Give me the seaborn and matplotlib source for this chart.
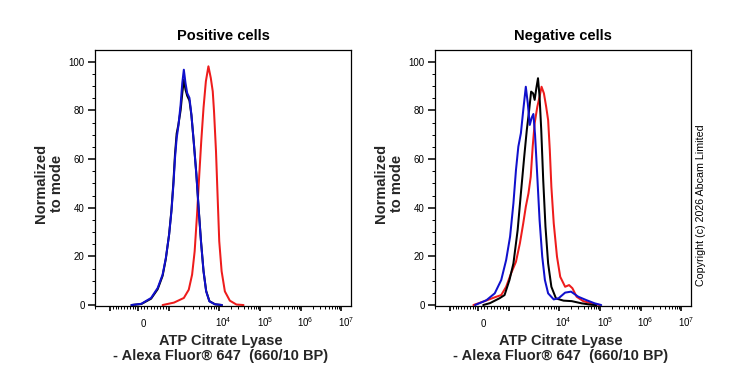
import numpy as np
import pandas as pd
import matplotlib
matplotlib.use("Agg")
import matplotlib.pyplot as plt
import seaborn as sns
from matplotlib.transforms import ScaledTranslation

# ---------------- data (fluorescence intensity, % of mode) ----------------
pos_red_x = [797, 1272, 2003, 2514, 2934, 3302, 3682, 4088, 4476, 4971, 5540, 6234,
             6955, 7613, 8077, 8845, 9556, 10337, 11797, 14148, 18637, 26960, 40000]
pos_red_y = [0, 1, 2.9, 6.3, 12.5, 22.1, 37.1, 53.6, 67.3, 81, 91.9, 98.1,
             93.3, 87.8, 79.6, 63.2, 44, 26.2, 13.9, 5.6, 1.8, 0.2, 0]

pos_black_x = [-241, 97, 419, 635, 797, 903, 1014, 1130, 1238, 1332, 1438, 1554, 1725,
               1863, 2003, 2164, 2338, 2596, 2842, 3155, 3567, 3960, 4416, 4971, 5616,
               6525, 8453, 12000]
pos_black_y = [0, 0.4, 2.6, 6.5, 12, 19, 29, 39, 50.5, 62, 70.5, 74, 80,
               87, 92.5, 88.5, 86, 84, 78, 67.5, 54, 40, 26.5, 14, 5.8,
               1.6, 0.3, 0]

pos_blue_x = [-241, 97, 419, 635, 797, 903, 1014, 1130, 1238, 1332, 1438, 1554, 1725,
              1863, 2003, 2164, 2338, 2596, 2842, 3155, 3567, 3960, 4416, 4971, 5616,
              6525, 8453, 12000]
pos_blue_y = [0, 0.5, 2.9, 7, 12.5, 19.3, 28.9, 38.5, 49.5, 60.4, 68.6, 73.4, 82.3,
              91.2, 96.7, 91.2, 87.1, 85.1, 78.2, 67.3, 53.6, 39.9, 26.2, 13.9, 5.6,
              1.5, 0.3, 0]

neg_red_x = [-172, 161, 590, 752, 913, 1110, 1393, 1671, 1950, 2194, 2480, 2753, 3015,
             3302, 3733, 4144, 4537, 5060, 5616, 6152, 6645, 7145, 7969, 9259, 10918,
             14358, 17880, 21545, 27270, 39380, 62080, 98360]
neg_red_y = [0, 1.4, 3.4, 4.1, 7.5, 13, 17.8, 25.4, 33.6, 40.4, 45.9, 52.7, 65.1,
             74.7, 81.5, 85.6, 89.7, 87, 81.5, 76, 63.7, 48.6, 33.6, 19.9, 11.6,
             7.5, 8.2, 6.9, 3.4, 1.6, 0.7, 0]

neg_black_x = [161, 387, 700, 861, 1032, 1238, 1505, 1748, 2040, 2296, 2561, 2804, 3070,
               3302, 3567, 3853, 4144, 4476, 4901, 5441, 6152, 7145, 8845, 13151, 20734,
               35866, 62080, 81630]
neg_black_y = [0, 0.8, 2.8, 4.1, 10.3, 17.1, 30.8, 45.9, 61, 71.9, 80.1, 87.7, 87,
               84.3, 89.1, 93.2, 85.6, 71.9, 51.4, 32.2, 17.1, 7.5, 2.7, 1.8, 1.6,
               0.7, 0.1, 0]

neg_blue_x = [-114, 161, 268, 539, 752, 913, 1061, 1238, 1393, 1554, 1748, 1950, 2194,
              2403, 2632, 2882, 3112, 3362, 3733, 4144, 4685, 5296, 6152, 7969, 10000,
              14358, 19953, 29939, 47190, 74350, 107520]
neg_blue_y = [0, 1.4, 2, 4.8, 10.3, 18.5, 28.1, 41.8, 55.5, 65.1, 70.6, 80.1, 89.7,
              82.9, 74, 77, 78.5, 70, 52.7, 34.9, 19.9, 10.3, 4.8, 2.3, 2.8,
              5.1, 5.5, 3.4, 2, 0.7, 0]

panel_titles = ["Positive cells", "Negative cells"]
x_major_ticks = [-1000, 0, 1000, 1e4, 1e5, 1e6, 1e7]
x_major_labels = ["", "0", "", "$10^{4}$", "$10^{5}$", "$10^{6}$", "$10^{7}$"]
y_ticks = [0, 20, 40, 60, 80, 100]
x_label = "ATP Citrate Lyase\n- Alexa Fluor\u00ae 647  (660/10 BP)"
y_label = "Normalized\nto mode"
copyright_text = "Copyright (c) 2026 Abcam Limited"

series_colors = {"red": "#ee1c1c", "black": "#000000", "blue": "#1010cc"}

# ---------------- style ----------------
sns.set_theme(style="white")
plt.rcParams["font.family"] = ["Liberation Sans", "DejaVu Sans"]
plt.rcParams["mathtext.fontset"] = "custom"
plt.rcParams["mathtext.rm"] = "Liberation Sans"
plt.rcParams["mathtext.it"] = "Liberation Sans:italic"
plt.rcParams["mathtext.bf"] = "Liberation Sans:bold"
plt.rcParams["axes.edgecolor"] = "black"
plt.rcParams["text.color"] = "black"
plt.rcParams["xtick.color"] = "black"
plt.rcParams["ytick.color"] = "black"

# biexponential-like display transform (linear near zero, log above 1e3)
LOG_V = np.array([3.0, 4.0, 5.0, 6.0, 7.0, 8.0])
LOG_P = np.array([31.0, 81.7, 123.7, 165.0, 206.5, 248.0])


def fwd(x):
    x = np.asarray(x, dtype=float)
    a = np.abs(x)
    la = np.log10(np.maximum(a, 1000.0))
    pos = np.where(a <= 1000, a * 31.0 / 1000.0, np.interp(la, LOG_V, LOG_P))
    neg = np.where(a <= 1000, -a * 29.0 / 1000.0, -(29.0 + 50.0 * (la - 3.0)))
    return np.where(x >= 0, pos, neg)


def inv(y):
    y = np.asarray(y, dtype=float)
    pos = np.where(y <= 31.0, y / 31.0 * 1000.0,
                   10 ** np.interp(np.maximum(y, 31.0), LOG_P, LOG_V))
    neg = np.where(y >= -29.0, y / 29.0 * 1000.0,
                   -10 ** (3.0 + (np.maximum(-y, 29.0) - 29.0) / 50.0))
    return np.where(y >= 0, pos, neg)


def make_df(rx, ry, kx, ky, bx, by):
    parts = []
    for name, xs, ys in (("red", rx, ry), ("black", kx, ky), ("blue", bx, by)):
        parts.append(pd.DataFrame({"x": xs, "y": ys, "sample": name}))
    return pd.concat(parts, ignore_index=True)


dfs = [make_df(pos_red_x, pos_red_y, pos_black_x, pos_black_y, pos_blue_x, pos_blue_y),
       make_df(neg_red_x, neg_red_y, neg_black_x, neg_black_y, neg_blue_x, neg_blue_y)]

W, H = 739, 370
fig = plt.figure(figsize=(W / 100, H / 100), dpi=100)
fig.patch.set_facecolor("white")
ax_lefts = [95, 435]
ax_w, ax_h = 256, 256
ax_bottom_px = 306

minor_x = ([-v for v in range(100, 1000, 100)] + list(range(100, 1000, 100)) +
           [m * 10 ** e for e in range(3, 7) for m in range(2, 10)] + [-2000])

for i, (df, title) in enumerate(zip(dfs, panel_titles)):
    ax = fig.add_axes([ax_lefts[i] / W, 1 - ax_bottom_px / H, ax_w / W, ax_h / H])
    sns.lineplot(data=df, x="x", y="y", hue="sample", hue_order=["red", "black", "blue"],
                 palette=series_colors, sort=False, estimator=None, legend=False,
                 linewidth=1.45, ax=ax)
    ax.set_xscale("function", functions=(fwd, inv))
    ax.set_xlim(float(inv(-40.0)), float(inv(216.3)))
    ax.set_ylim(-0.4, 104.8)

    ax.set_xticks(x_major_ticks)
    ax.set_xticklabels(x_major_labels)
    ax.set_xticks(minor_x, minor=True)
    ax.set_yticks(y_ticks)
    ax.set_yticklabels([str(v) for v in y_ticks])
    ax.set_yticks(list(range(5, 105, 5)), minor=True)

    ax.tick_params(axis="x", which="major", direction="out", length=3.8, width=1.2,
                   pad=11.3, labelsize=7, bottom=True)
    ax.tick_params(axis="x", which="minor", direction="out", length=2.2, width=0.7,
                   bottom=True)
    ax.tick_params(axis="y", which="major", direction="out", length=5, width=1.1,
                   pad=2.5, labelsize=7, left=True)
    ax.tick_params(axis="y", which="minor", direction="out", length=2.5, width=0.7,
                   left=True)
    for lbl in ax.get_xticklabels():
        lbl.set_verticalalignment("baseline")
        lbl.set_transform(lbl.get_transform() +
                          ScaledTranslation(0.05, 0, fig.dpi_scale_trans))

    for sp in ax.spines.values():
        sp.set_linewidth(0.9)
        sp.set_color("black")

    ax.set_title(title, fontsize=10.5, fontweight="bold", pad=7)
    ax.set_xlabel(x_label, fontsize=10.5, fontweight="bold", linespacing=1.15,
                  ha="center", va="center")
    ax.xaxis.set_label_coords(0.49, -0.166)
    ax.set_ylabel(y_label, fontsize=10.5, fontweight="bold", linespacing=1.15,
                  ha="center", va="center")
    ax.yaxis.set_label_coords(-0.18, 0.477)

fig.text(701 / W, 1 - 205 / H, copyright_text, rotation=90, ha="center", va="center",
         fontsize=7.7)

fig.savefig("out.png", dpi=100)
